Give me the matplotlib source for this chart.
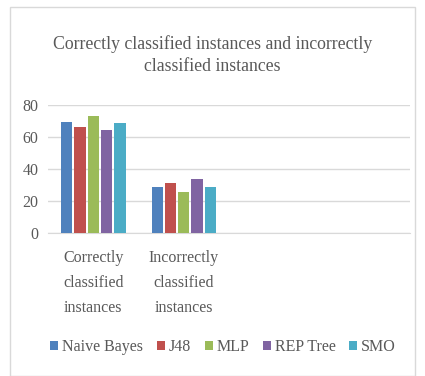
import matplotlib.pyplot as plt
import numpy as np
from matplotlib.patches import Rectangle

plt.rcParams['font.family'] = ['Liberation Serif', 'DejaVu Serif']

# data
categories = ["Correctly\nclassified\ninstances", "Incorrectly\nclassified\ninstances", "", ""]
classifiers = ["Naive Bayes", "J48", "MLP", "REP Tree", "SMO"]
correct = [69.5, 66.5, 73.0, 64.5, 69.0]
incorrect = [28.5, 31.0, 25.5, 34.0, 29.0]
colors = ["#4F81BD", "#C0504D", "#9BBB59", "#8064A2", "#4BACC6"]

text_col = "#595959"

fig = plt.figure(figsize=(4.25, 3.76), dpi=100)
fig.patches.append(Rectangle((10 / 425, 0), 405 / 425, 1 - 7 / 376, transform=fig.transFigure,
                             fill=False, edgecolor="#d9d9d9", linewidth=1))

ax = fig.add_axes([0.113, 0.380, 0.852, 0.341])

x = np.arange(2)
step = 0.147
for i, name in enumerate(classifiers):
    vals = [correct[i], incorrect[i]]
    ax.bar(x + (i - 2) * step, vals, width=0.125, color=colors[i], label=name, zorder=3)

ax.set_xlim(-0.5, 3.5)
ax.set_ylim(0, 80)
ax.set_yticks([0, 20, 40, 60, 80])
ax.yaxis.grid(True, color="#d9d9d9", linewidth=1, zorder=0)
ax.set_xticks(np.arange(4))
ax.set_xticklabels(categories, linespacing=1.75)
ax.tick_params(axis="both", length=0, labelsize=11.5, colors=text_col)
ax.tick_params(axis="y", pad=7)
ax.tick_params(axis="x", pad=12)
for s in ["top", "right", "left"]:
    ax.spines[s].set_visible(False)
ax.spines["bottom"].set_color("#d9d9d9")

fig.text(0.5, 0.854, "Correctly classified instances and incorrectly\nclassified instances",
         ha="center", va="center", fontsize=12.8, color=text_col, linespacing=1.4)

leg = fig.legend(loc="center", bbox_to_anchor=(0.525, 0.076), ncol=5, frameon=False,
                 fontsize=11.5, handlelength=0.5, handleheight=0.5, handletextpad=0.25,
                 columnspacing=0.85, labelcolor=text_col)

fig.savefig("out.png", dpi=100)
